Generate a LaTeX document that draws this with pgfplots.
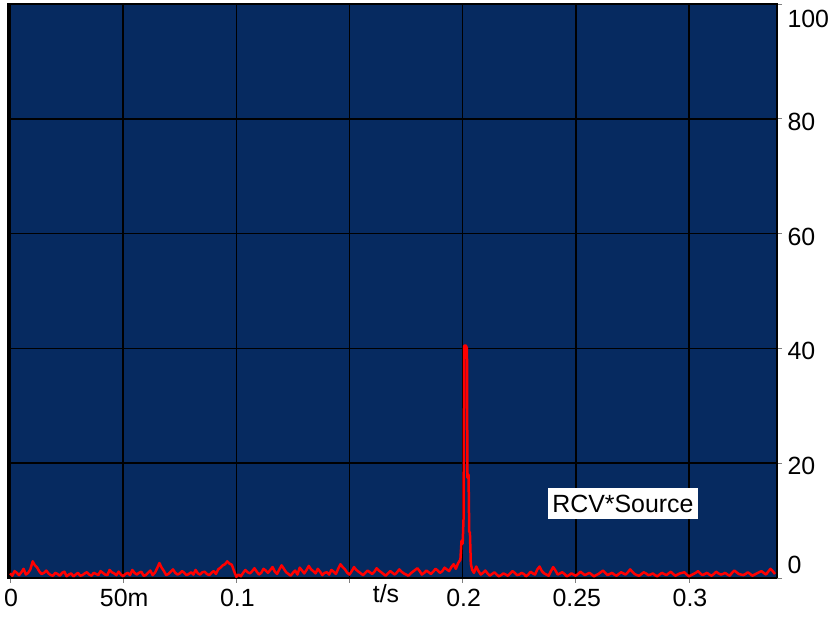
\documentclass[border=0pt]{standalone}
\usepackage{pgfplots}
\pgfplotsset{compat=1.18}
\usepackage{fontspec}
\setmainfont{Liberation Sans}
\definecolor{scopebg}{RGB}{6,42,96}

\begin{document}
\begin{tikzpicture}
\useasboundingbox (0,0) rectangle (831bp,618bp);
\begin{axis}[
    at={(8bp,40bp)}, anchor=south west,
    scale only axis,
    width=769bp, height=574bp,
    xmin=-0.0009, xmax=0.3389,
    ymin=0, ymax=100,
    axis background/.style={fill=scopebg},
    axis line style={black, line width=1.2bp},
    grid=major,
    major grid style={black, line width=1.5bp},
    tick align=outside,
    major tick length=5bp,
    every tick/.style={gray, line width=0.8bp},
    xtick pos=bottom,
    ytick pos=right, yticklabel pos=right,
    xtick={0,0.05,0.1,0.15,0.2,0.25,0.3},
    xticklabels={0,50m,0.1,,0.2,0.25,0.3},
    extra x ticks={0.1657},
    extra x tick labels={t/s},
    extra x tick style={grid=none, major tick length=0pt},
    ytick={20,40,60,80,100},
    yticklabels={20,40,60,80,\raisebox{-42bp}{100}},
    extra y ticks={0},
    extra y tick labels={0},
    extra y tick style={grid=none, yticklabel style={yshift=16bp}},
    /pgf/number format/assume math mode=true,
    tick label style={font=\fontsize{25}{30}\selectfont},
    xticklabel style={yshift=-3bp, xshift=1bp},
    yticklabel style={xshift=2bp, yshift=-3bp},
]
% RCV*Source
\addplot[red, line width=2.5bp, line join=round] table {
x y
0.000 0.8
0.001 0.4
0.002 1.2
0.003 0.9
0.004 0.5
0.005 1.0
0.006 1.6
0.007 0.6
0.008 0.9
0.009 1.5
0.010 2.9
0.011 2.2
0.012 1.8
0.013 1.1
0.014 0.7
0.015 0.9
0.016 1.3
0.017 0.8
0.018 0.5
0.019 0.4
0.020 0.9
0.021 0.7
0.022 0.4
0.023 0.9
0.024 1.1
0.025 0.3
0.026 0.6
0.027 0.8
0.028 0.3
0.029 0.6
0.030 0.9
0.031 0.4
0.032 0.5
0.033 0.8
0.034 1.0
0.035 0.6
0.036 0.4
0.037 0.9
0.038 0.7
0.039 0.5
0.040 1.2
0.041 0.9
0.042 0.6
0.043 0.5
0.044 1.4
0.045 1.0
0.046 0.8
0.047 0.5
0.048 1.1
0.049 0.6
0.050 0.3
0.051 0.7
0.052 0.9
0.053 0.5
0.054 1.4
0.055 0.9
0.056 0.6
0.057 0.9
0.058 1.1
0.059 0.4
0.060 0.5
0.061 0.9
0.062 1.3
0.063 0.5
0.064 0.9
0.065 1.7
0.066 2.6
0.067 1.8
0.068 1.2
0.069 0.5
0.070 0.7
0.071 1.1
0.072 1.5
0.073 0.9
0.074 0.6
0.075 0.8
0.076 1.2
0.077 0.9
0.078 0.5
0.079 0.7
0.080 1.0
0.081 0.6
0.082 1.4
0.083 0.8
0.084 0.6
0.085 1.0
0.086 1.1
0.087 0.7
0.088 0.5
0.089 0.9
0.090 1.2
0.091 0.7
0.092 1.5
0.093 1.8
0.094 2.2
0.095 2.4
0.096 2.9
0.097 2.5
0.098 2.3
0.099 1.2
0.100 0.2
0.101 0.6
0.102 0.3
0.103 0.9
0.104 1.4
0.105 1.0
0.106 0.8
0.107 1.2
0.108 1.7
0.109 1.1
0.110 0.6
0.111 0.9
0.112 1.6
0.113 1.3
0.114 0.9
0.115 1.4
0.116 1.9
0.117 1.1
0.118 0.7
0.119 1.5
0.120 2.2
0.121 1.6
0.122 1.0
0.123 0.7
0.124 0.4
0.125 0.9
0.126 1.3
0.127 0.6
0.128 1.8
0.129 1.3
0.130 0.8
0.131 1.4
0.132 2.1
0.133 1.5
0.134 1.2
0.135 0.8
0.136 1.6
0.137 1.1
0.138 0.5
0.139 0.9
0.140 1.0
0.141 0.6
0.142 1.4
0.143 1.1
0.144 0.7
0.145 1.6
0.146 2.4
0.147 1.9
0.148 1.5
0.149 0.9
0.150 0.6
0.151 1.2
0.152 1.9
0.153 1.4
0.154 1.1
0.155 0.8
0.156 0.5
0.157 0.9
0.158 1.3
0.159 1.0
0.160 0.7
0.161 1.1
0.162 1.7
0.163 1.3
0.164 1.0
0.165 0.7
0.166 0.4
0.167 0.8
0.168 1.2
0.169 0.9
0.170 0.6
0.171 1.0
0.172 1.5
0.173 1.1
0.174 0.8
0.175 0.6
0.176 0.4
0.177 0.8
0.178 1.1
0.179 1.4
0.180 1.7
0.181 1.2
0.182 0.6
0.183 0.9
0.184 1.3
0.185 1.0
0.186 0.7
0.187 1.1
0.188 1.6
0.189 1.3
0.190 0.9
0.191 1.2
0.192 1.8
0.193 1.5
0.194 1.2
0.195 1.9
0.196 2.4
0.197 1.6
0.198 2.6
0.1990 3.2
0.1995 6.5
0.2000 6.0
0.2004 10.5
0.2007 40.5
0.2014 40.5
0.2019 40.0
0.2021 17.5
0.2026 18.0
0.2029 8.0
0.2032 8.0
0.2036 2.5
0.2042 1.4
0.205 0.9
0.206 2.0
0.207 1.2
0.208 0.6
0.209 0.9
0.210 1.3
0.211 0.8
0.212 0.4
0.213 0.7
0.214 1.0
0.215 0.6
0.216 0.3
0.217 0.5
0.218 0.8
0.219 0.6
0.220 0.4
0.221 0.8
0.222 1.2
0.223 0.9
0.224 0.5
0.225 0.6
0.226 0.9
0.227 0.7
0.228 0.3
0.229 0.6
0.230 1.1
0.231 0.8
0.232 0.6
0.233 1.5
0.234 2.0
0.235 1.2
0.236 0.8
0.237 0.6
0.238 0.4
0.239 1.2
0.240 1.9
0.241 1.3
0.242 0.6
0.243 0.8
0.244 1.0
0.245 0.7
0.246 0.3
0.247 0.5
0.248 0.8
0.249 0.6
0.250 0.4
0.251 0.7
0.252 1.1
0.253 0.8
0.254 0.5
0.255 0.7
0.256 0.9
0.257 0.6
0.258 0.3
0.259 0.5
0.260 0.7
0.261 1.0
0.262 1.3
0.263 0.9
0.264 0.5
0.265 0.7
0.266 0.9
0.267 0.6
0.268 0.4
0.269 0.7
0.270 1.0
0.271 0.8
0.272 0.6
0.273 1.0
0.274 1.5
0.275 1.1
0.276 0.7
0.277 0.5
0.278 0.4
0.279 0.7
0.280 1.0
0.281 0.8
0.282 0.5
0.283 0.6
0.284 0.8
0.285 0.5
0.286 0.3
0.287 0.6
0.288 0.9
0.289 0.7
0.290 0.5
0.291 0.8
0.292 1.1
0.293 0.7
0.294 0.4
0.295 0.6
0.296 0.8
0.297 0.9
0.298 1.0
0.299 0.6
0.300 0.3
0.301 0.5
0.302 0.7
0.303 0.9
0.304 1.2
0.305 0.8
0.306 0.5
0.307 0.7
0.308 0.9
0.309 0.6
0.310 0.4
0.311 0.7
0.312 1.1
0.313 0.8
0.314 0.6
0.315 0.7
0.316 0.9
0.317 0.6
0.318 0.4
0.319 0.9
0.320 1.3
0.321 1.0
0.322 0.7
0.323 0.6
0.324 0.5
0.325 0.7
0.326 1.0
0.327 0.7
0.328 0.4
0.329 0.6
0.330 0.8
0.331 1.0
0.332 1.2
0.333 0.9
0.334 0.6
0.335 1.1
0.336 1.6
0.337 1.2
0.338 0.7
};
\node[fill=white, text=black, inner sep=0pt, minimum width=150bp, minimum height=31bp,
      font=\fontsize{25}{30}\selectfont] at (axis cs:0.2708,12.9) {RCV*Source};
\end{axis}
\end{tikzpicture}
\end{document}
